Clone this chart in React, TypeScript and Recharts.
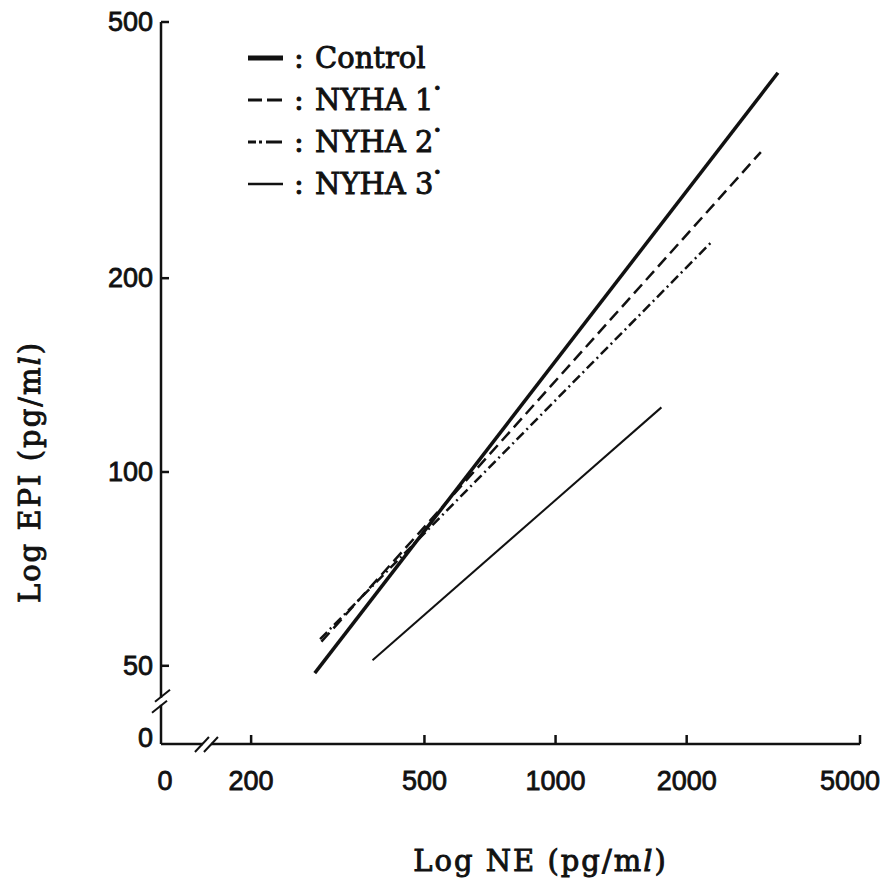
import React from "react";
import { LineChart, Line, XAxis, YAxis, Legend } from "recharts";

// NE (pg/ml) on x, EPI (pg/ml) on y, both log scale with a broken axis near 0
const neTicks = [124.2, 159.2, 200, 500, 1000, 2000, 5000];
const neTickLabels = ["0", "", "200", "500", "1000", "2000", "5000"];
const epiTicks = [37.8, 43.8, 50, 100, 200, 500];
const epiTickLabels = ["0", "", "50", "100", "200", "500"];
const neBreak = 159.2;
const epiBreak = 43.8;

const controlLine = [{ ne: 280, epi: 48.7 }, { ne: 3240, epi: 417 }];
const nyha1Line = [{ ne: 290, epi: 54.5 }, { ne: 2960, epi: 314 }];
const nyha2Line = [{ ne: 288, epi: 55 }, { ne: 2300, epi: 229 }];
const nyha3Line = [{ ne: 380, epi: 51 }, { ne: 1750, epi: 126 }];

const seriesNames = ["Control", "NYHA 1", "NYHA 2", "NYHA 3"];

const INK = "#111";
const serif = "'DejaVu Serif', 'Liberation Serif', serif";
const sans = "'Liberation Sans', Arial, sans-serif";

const lineStyles = [
    { width: 3.5, dash: undefined },
    { width: 2.5, dash: "12 6" },
    { width: 2.5, dash: "10 4 2 4" },
    { width: 2, dash: undefined },
];

function NeTick(props: any) {
    const { x, y, payload } = props;
    const v = payload.value;
    if (v === neBreak) {
        return (
            <g>
                <rect x={x - 5} y={y - 4} width={8} height={8} fill="#fff" />
                <line x1={x - 13} y1={y + 8} x2={x + 1} y2={y - 7} stroke={INK} strokeWidth={2} />
                <line x1={x - 4} y1={y + 8} x2={x + 10} y2={y - 7} stroke={INK} strokeWidth={2} />
            </g>
        );
    }
    const label = neTickLabels[neTicks.indexOf(v)];
    const first = v === neTicks[0];
    const last = v === neTicks[neTicks.length - 1];
    return (
        <g>
            {!first && <line x1={x} y1={y} x2={x} y2={y - 9} stroke={INK} strokeWidth={2.5} />}
            <text x={first ? x + 4 : last ? x + 20 : x} y={y + 37} textAnchor={last ? "end" : "middle"}
                dominantBaseline="central" fontFamily={sans} fontSize={27} fill={INK} stroke={INK} strokeWidth={0.8}>
                {label}
            </text>
        </g>
    );
}

function EpiTick(props: any) {
    const { x, y, payload } = props;
    const v = payload.value;
    if (v === epiBreak) {
        return (
            <g>
                <rect x={x - 4} y={y - 5} width={8} height={7} fill="#fff" />
                <line x1={x - 6} y1={y - 1} x2={x + 9} y2={y - 13} stroke={INK} strokeWidth={2} />
                <line x1={x - 9} y1={y + 10} x2={x + 6} y2={y - 2} stroke={INK} strokeWidth={2} />
            </g>
        );
    }
    const label = epiTickLabels[epiTicks.indexOf(v)];
    const first = v === epiTicks[0];
    return (
        <g>
            {!first && <line x1={x} y1={y} x2={x + 8} y2={y} stroke={INK} strokeWidth={2.5} />}
            <text x={x - 8} y={first ? y - 6 : y} textAnchor="end" dominantBaseline="central"
                fontFamily={sans} fontSize={27} fill={INK} stroke={INK} strokeWidth={0.8}>
                {label}
            </text>
        </g>
    );
}

function LegendBox() {
    const rowY = (i: number) => 18 + i * 42;
    return (
        <svg width={260} height={180}>
            {/* Control: thick bar */}
            <line x1={8} y1={rowY(0)} x2={43} y2={rowY(0)} stroke={INK} strokeWidth={5} />
            {/* NYHA 1: dashes */}
            <line x1={8} y1={rowY(1)} x2={22} y2={rowY(1)} stroke={INK} strokeWidth={3} />
            <line x1={27} y1={rowY(1)} x2={42} y2={rowY(1)} stroke={INK} strokeWidth={3} />
            {/* NYHA 2: dash dot dash */}
            <line x1={8} y1={rowY(2)} x2={16} y2={rowY(2)} stroke={INK} strokeWidth={3} />
            <line x1={19} y1={rowY(2)} x2={22} y2={rowY(2)} stroke={INK} strokeWidth={3} />
            <line x1={26} y1={rowY(2)} x2={42} y2={rowY(2)} stroke={INK} strokeWidth={3} />
            {/* NYHA 3: thin */}
            <line x1={8} y1={rowY(3)} x2={43} y2={rowY(3)} stroke={INK} strokeWidth={2.5} />
            {seriesNames.map((name, i) => (
                <g key={name}>
                    <text x={54} y={rowY(i)} dominantBaseline="central" fontFamily={serif} fontSize={29}
                        fill={INK} stroke={INK} strokeWidth={0.9}>:</text>
                    <text x={75} y={rowY(i)} dominantBaseline="central" fontFamily={serif} fontSize={29}
                        fill={INK} stroke={INK} strokeWidth={0.9}>
                        {name}
                        {i > 0 && <tspan fontSize={13} dy={-12}>•</tspan>}
                    </text>
                </g>
            ))}
        </svg>
    );
}

function XTitle(props: any) {
    const { viewBox } = props;
    return (
        <text x={viewBox.x + viewBox.width / 2 + 30} y={viewBox.y + 127} textAnchor="middle"
            fontFamily={serif} fontSize={29} letterSpacing={2} fill={INK} stroke={INK} strokeWidth={0.9}>
            Log NE (pg/m<tspan fontStyle="italic">l</tspan>)
        </text>
    );
}

function YTitle(props: any) {
    const { viewBox } = props;
    const cx = viewBox.x + 40;
    const cy = viewBox.y + 450;
    return (
        <text x={cx} y={cy} transform={`rotate(-90 ${cx} ${cy})`} textAnchor="middle"
            fontFamily={serif} fontSize={29} letterSpacing={2} fill={INK} stroke={INK} strokeWidth={0.9}>
            Log EPI (pg/m<tspan fontStyle="italic">l</tspan>)
        </text>
    );
}

export default function App() {
    const series = [controlLine, nyha1Line, nyha2Line, nyha3Line];
    return (
        <div style={{ position: "absolute", left: 0, top: 0, width: 884, height: 881, background: "#fff" }}>
            <LineChart width={884} height={881} margin={{ top: 22, right: 24, left: 0, bottom: 0 }}>
                <XAxis dataKey="ne" type="number" scale="log" domain={[124.2, 5000]} allowDataOverflow
                    ticks={neTicks} interval={0} tickSize={0} tickMargin={0} height={137}
                    axisLine={{ stroke: INK, strokeWidth: 2.5 }} tickLine={false}
                    tick={<NeTick />} label={(p: any) => <XTitle {...p} />} />
                <YAxis dataKey="epi" type="number" scale="log" domain={[37.8, 500]} allowDataOverflow
                    ticks={epiTicks} interval={0} tickSize={0} tickMargin={0} width={161}
                    axisLine={{ stroke: INK, strokeWidth: 2.5 }} tickLine={false}
                    tick={<EpiTick />} label={(p: any) => <YTitle {...p} />} />
                <Legend layout="vertical" align="center" verticalAlign="middle"
                    wrapperStyle={{ position: "absolute", left: 240, top: 40, width: 260, height: 180 }}
                    content={() => <LegendBox />} />
                {series.map((d, i) => (
                    <Line key={seriesNames[i]} name={seriesNames[i]} data={d} dataKey="epi" type="linear"
                        stroke={INK} strokeWidth={lineStyles[i].width} strokeDasharray={lineStyles[i].dash}
                        dot={false} activeDot={false} isAnimationActive={false} />
                ))}
            </LineChart>
        </div>
    );
}
